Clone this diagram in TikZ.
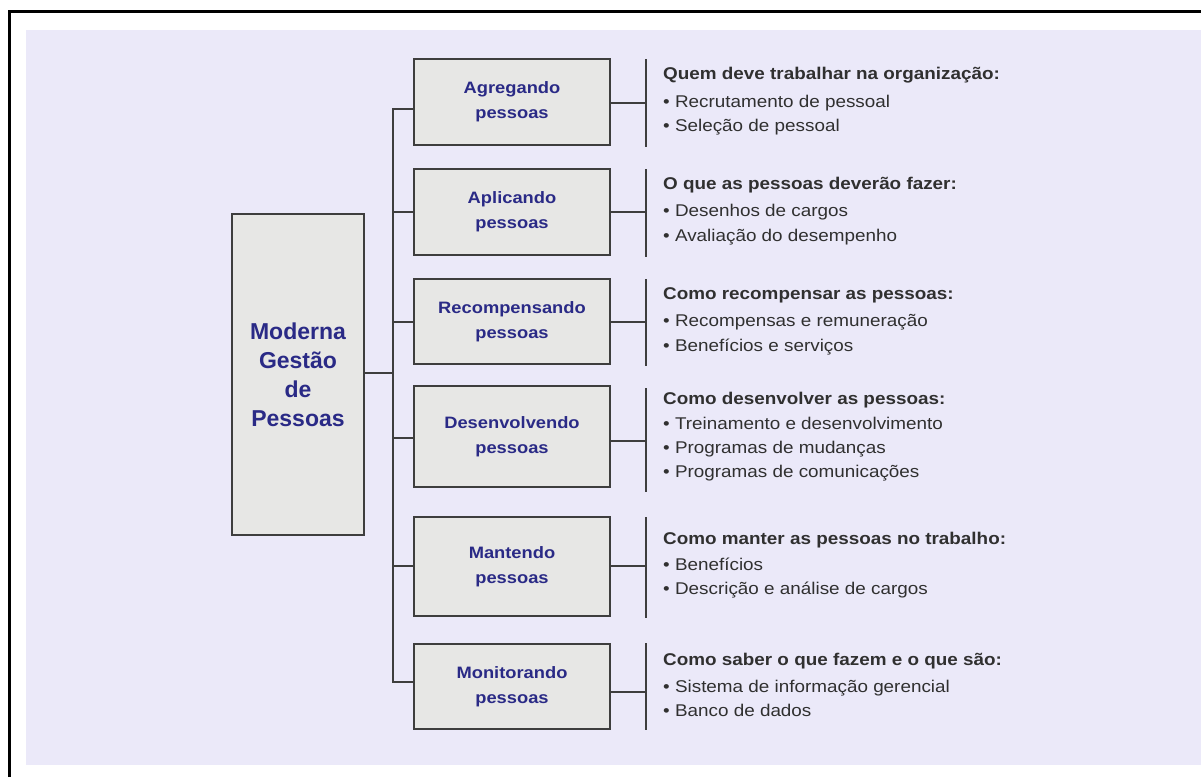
\documentclass[tikz,border=0pt]{standalone}
\usepackage{fontspec}
\setmainfont{Liberation Sans}
\newfontfamily\widesans{Liberation Sans}[FakeStretch=1.11]
\definecolor{lav}{HTML}{EBE9F9}
\definecolor{boxfill}{HTML}{E7E7E5}
\definecolor{boxline}{HTML}{3E3E3E}
\definecolor{navy}{HTML}{2A2A86}
\definecolor{txt}{HTML}{303030}
\tikzset{
  x=1pt, y=-1pt,
  smallbox/.style={draw=boxline, line width=1.8pt, fill=boxfill, minimum width=196pt, align=center,
    text=navy, inner sep=0pt, font=\widesans\fontsize{16.5}{25}\selectfont\bfseries},
  mainbox/.style={draw=boxline, line width=1.8pt, fill=boxfill, minimum width=132pt, minimum height=321pt,
    align=center, text=navy, inner sep=0pt, font=\fontsize{23}{29}\selectfont\bfseries},
  conn/.style={draw=boxline, line width=1.6pt},
  hdline/.style={anchor=west, inner sep=0pt, text=txt, text height=12pt, text depth=3.5pt,
    font=\widesans\fontsize{17}{20}\selectfont\bfseries},
  itline/.style={anchor=west, inner sep=0pt, text=txt, text height=12pt, text depth=3.5pt,
    font=\widesans\fontsize{17}{20}\selectfont},
}
\begin{document}
\begin{tikzpicture}
\useasboundingbox (0,0) rectangle (1201,777);
% frame and background
\fill[white] (0,0) rectangle (1201,777);
\fill[lav] (26,30) rectangle (1201,765);
\draw[black, line width=3pt] (9,777) -- (9,11) -- (1201,11);

% main box
\node[mainbox] (m) at (298,374.5) {Moderna\\Gestão\\de\\Pessoas};

% small boxes
\node[smallbox, minimum height=86pt]  (b1) at (512,102)   {Agregando\\pessoas};
\node[smallbox, minimum height=86pt]  (b2) at (512,212)   {Aplicando\\pessoas};
\node[smallbox, minimum height=85pt]  (b3) at (512,321.5) {Recompensando\\pessoas};
\node[smallbox, minimum height=101pt] (b4) at (512,436.5) {Desenvolvendo\\pessoas};
\node[smallbox, minimum height=99pt]  (b5) at (512,566.5) {Mantendo\\pessoas};
\node[smallbox, minimum height=85pt]  (b6) at (512,686.5) {Monitorando\\pessoas};

% trunk
\coordinate (t1) at (393,109);
\coordinate (t2) at (393,212);
\coordinate (t3) at (393,322);
\coordinate (t4) at (393,438);
\coordinate (t5) at (393,566);
\coordinate (t6) at (393,682);
\coordinate (tm) at (393,373);
\draw[conn] (t1 -| b1.west) -- (t1) -- (t6) -- (t6 -| b6.west);
\draw[conn] (t2) -- (t2 -| b2.west);
\draw[conn] (t3) -- (t3 -| b3.west);
\draw[conn] (t4) -- (t4 -| b4.west);
\draw[conn] (t5) -- (t5 -| b5.west);
\draw[conn] (m.east |- tm) -- (tm);

% right brackets
\coordinate (r1) at (646,103);
\coordinate (r2) at (646,212);
\coordinate (r3) at (646,322);
\coordinate (r4) at (646,441);
\coordinate (r5) at (646,566);
\coordinate (r6) at (646,692);
\draw[conn] (b1.east |- r1) -- (r1);  \draw[conn] (646,59) -- (646,147);
\draw[conn] (b2.east |- r2) -- (r2);  \draw[conn] (646,169) -- (646,257);
\draw[conn] (b3.east |- r3) -- (r3);  \draw[conn] (646,279) -- (646,366);
\draw[conn] (b4.east |- r4) -- (r4);  \draw[conn] (646,388) -- (646,492);
\draw[conn] (b5.east |- r5) -- (r5);  \draw[conn] (646,517) -- (646,618);
\draw[conn] (b6.east |- r6) -- (r6);  \draw[conn] (646,643) -- (646,730);

% text blocks
\node[hdline] (h1)  at (663,75)  {Quem deve trabalhar na organização:};
\node[itline] (h1a) at (663,103) {• Recrutamento de pessoal};
\node[itline] (h1b) at (663,127) {• Seleção de pessoal};

\node[hdline] (h2)  at (663,185) {O que as pessoas deverão fazer:};
\node[itline] (h2a) at (663,212) {• Desenhos de cargos};
\node[itline] (h2b) at (663,237) {• Avaliação do desempenho};

\node[hdline] (h3)  at (663,295) {Como recompensar as pessoas:};
\node[itline] (h3a) at (663,322) {• Recompensas e remuneração};
\node[itline] (h3b) at (663,347) {• Benefícios e serviços};

\node[hdline] (h4)  at (663,400) {Como desenvolver as pessoas:};
\node[itline] (h4a) at (663,425) {• Treinamento e desenvolvimento};
\node[itline] (h4b) at (663,449) {• Programas de mudanças};
\node[itline] (h4c) at (663,473) {• Programas de comunicações};

\node[hdline] (h5)  at (663,540) {Como manter as pessoas no trabalho:};
\node[itline] (h5a) at (663,566) {• Benefícios};
\node[itline] (h5b) at (663,590) {• Descrição e análise de cargos};

\node[hdline] (h6)  at (663,661) {Como saber o que fazem e o que são:};
\node[itline] (h6a) at (663,688) {• Sistema de informação gerencial};
\node[itline] (h6b) at (663,712) {• Banco de dados};
\end{tikzpicture}
\end{document}
